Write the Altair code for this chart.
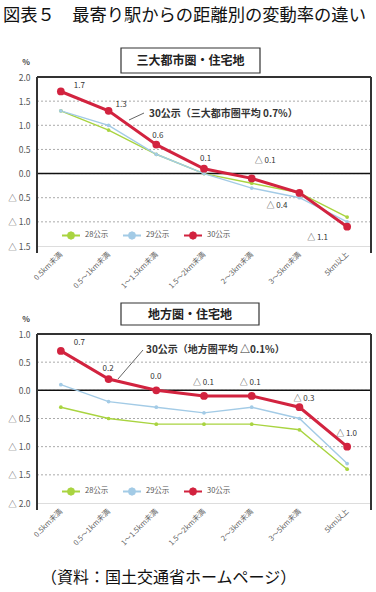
import altair as alt
import pandas as pd

FONT = "Noto Sans CJK JP"

categories = ["0.5km未満", "0.5～1km未満", "1～1.5km未満", "1.5～2km未満",
              "2～3km未満", "3～5km未満", "5km以上"]
series = ["28公示", "29公示", "30公示"]

metro_28 = [1.3, 0.9, 0.4, 0.0, -0.2, -0.4, -0.9]
metro_29 = [1.3, 1.0, 0.4, 0.0, -0.3, -0.5, -1.0]
metro_30 = [1.7, 1.3, 0.6, 0.1, -0.1, -0.4, -1.1]
local_28 = [-0.3, -0.5, -0.6, -0.6, -0.6, -0.7, -1.4]
local_29 = [0.1, -0.2, -0.3, -0.4, -0.3, -0.5, -1.3]
local_30 = [0.7, 0.2, 0.0, -0.1, -0.1, -0.3, -1.0]

metro_ticks = [2.0, 1.5, 1.0, 0.5, 0.0, -0.5, -1.0, -1.5]
local_ticks = [1.0, 0.5, 0.0, -0.5, -1.0, -1.5, -2.0]

chart_title = "図表５　最寄り駅からの距離別の変動率の違い"
metro_title = "三大都市圏・住宅地"
local_title = "地方圏・住宅地"
metro_note = "30公示（三大都市圏平均 0.7%）"
local_note = "30公示（地方圏平均 △0.1%）"
source_note = "（資料：国土交通省ホームページ）"

# ---- styles ----
W, H = 334, 169
COLORS = ["#a9d440", "#a3cbe6", "#d2233f"]
LEGEND_PATH = ("M-1,0H1M0.35,0L0.25,0.25L0,0.35L-0.25,0.25L-0.35,0"
               "L-0.25,-0.25L0,-0.35L0.25,-0.25Z")

metro_label_offsets = [(13, -5), (7, -6), (-4, -9), (-4, -10), (3, -17), (-33, 13), (-40, 11)]
local_label_offsets = [(13, -8), (-6, -10), (-6, -13), (-11, -13), (-12, -13), (-6, -8), (-11, -13)]


def fmt(v):
    return "△ " + f"{-v:.1f}" if v < 0 else f"{v:.1f}"


def make_df(v28, v29, v30):
    rows = []
    for s, vals in zip(series, [v28, v29, v30]):
        for c, v in zip(categories, vals):
            rows.append({"series": s, "cat": c, "val": v, "lab": fmt(v)})
    return pd.DataFrame(rows)


def txt(t, x, y, **kw):
    return alt.Chart(pd.DataFrame({"t": [t]})).mark_text(**kw).encode(
        x=alt.value(x), y=alt.value(y), text="t:N")


def rule(x, x2, y, y2, **kw):
    return alt.Chart(pd.DataFrame({"k": [0]})).mark_rule(**kw).encode(
        x=alt.value(x), x2=alt.value(x2), y=alt.value(y), y2=alt.value(y2))


def panel(v28, v29, v30, ticks, box_title, box_geom, box_text_y, note, note_xy,
          leader, offsets, legend_y, extras):
    df = make_df(v28, v29, v30)
    x_enc = alt.X("cat:N", sort=categories,
                  scale=alt.Scale(type="point", padding=0.5),
                  axis=alt.Axis(title=None, labelAngle=-45, labelAlign="right",
                                labelBaseline="middle", labelPadding=7,
                                labelFontSize=7.5, labelColor="#666",
                                ticks=False, domain=False, grid=False,
                                labelFont=FONT))
    y_enc = alt.Y("val:Q",
                  scale=alt.Scale(domain=[ticks[-1], ticks[0]], nice=False, zero=False),
                  axis=alt.Axis(title=None, values=ticks, grid=False, ticks=False,
                                domain=False, labelPadding=7, labelFontSize=8.5,
                                labelColor="#555", labelFont=FONT,
                                labelExpr="datum.value < 0 ? '△ ' + format(-datum.value, '.1f') : format(datum.value, '.1f')"))
    color_scale = alt.Scale(domain=series, range=COLORS)
    leg = alt.Legend(title=None, orient="none", legendX=24, legendY=legend_y,
                     direction="horizontal", symbolType=LEGEND_PATH, symbolSize=324,
                     symbolStrokeWidth=2, labelFontSize=7.5, labelColor="#555",
                     labelFont=FONT, labelOffset=4, columnPadding=10, padding=0)
    base = alt.Chart(df)

    grid = alt.Chart(pd.DataFrame({"val": ticks[1:-1]})).mark_rule(
        color="#aaaaaa", strokeDash=[2, 2], strokeWidth=1).encode(y=y_enc)
    zero = alt.Chart(pd.DataFrame({"val": [0.0]})).mark_rule(
        color="#111111", strokeWidth=1.5).encode(y=y_enc)

    enc = dict(x=x_enc, y=y_enc,
               color=alt.Color("series:N", scale=color_scale, legend=leg))
    lines_a = base.transform_filter("datum.series != '30公示'").mark_line(strokeWidth=1.4).encode(**enc)
    lines_b = base.transform_filter("datum.series == '30公示'").mark_line(strokeWidth=3).encode(**enc)
    pts_a = base.transform_filter("datum.series != '30公示'").mark_point(
        filled=True, size=14, opacity=1).encode(**enc)
    pts_b = base.transform_filter("datum.series == '30公示'").mark_point(
        filled=True, size=60, opacity=1).encode(**enc)

    labels = []
    for i, (dx, dy) in enumerate(offsets):
        labels.append(
            base.transform_filter(f"datum.series == '30公示' && datum.cat == '{categories[i]}'")
            .mark_text(align="left", baseline="middle", dx=dx, dy=dy, fontSize=8, color="#333333")
            .encode(x=x_enc, y=y_enc, text="lab:N")
        )

    frame = [
        rule(0, 0, 0, H + 7, color="#333333", strokeWidth=2),
        rule(W, W, 0, H + 7, color="#333333", strokeWidth=2),
        rule(0, W, 0, 0, color="#333333", strokeWidth=2),
    ]

    bx1, bx2, by1, by2 = box_geom
    box = alt.Chart(pd.DataFrame({"k": [0]})).mark_rect(
        fill="white", stroke="#333333", strokeWidth=1.2).encode(
        x=alt.value(bx1), x2=alt.value(bx2), y=alt.value(by1), y2=alt.value(by2))
    box_txt = txt(box_title, (bx1 + bx2) / 2, box_text_y, align="center", baseline="middle",
                  fontSize=12, fontWeight="bold", color="#222222")

    note_t = txt(note, note_xy[0], note_xy[1], align="left", baseline="middle",
                 fontSize=10, fontWeight="bold", color="#333333")
    lead = rule(leader[0], leader[1], leader[2], leader[3], color="#666666", strokeWidth=1)
    pct = txt("%", -11, -14, align="center", baseline="middle", fontSize=8,
              fontWeight="bold", color="#444444")

    return alt.layer(grid, zero, lines_a, lines_b, pts_a, pts_b, *labels, *frame,
                     lead, note_t, box, box_txt, pct, *extras).properties(width=W, height=H)


top = panel(metro_28, metro_29, metro_30, metro_ticks, metro_title,
            (84, 223, -29, -4), -16.5, metro_note, (112, 37), (92, 107, 43, 36),
            metro_label_offsets, 148,
            [rule(-34, -33, -76, -76, opacity=0, strokeWidth=0.5),
             txt(chart_title, -34, -70, align="left", baseline="top", fontSize=17.3,
                 color="#111111")])

bottom = panel(local_28, local_29, local_30, local_ticks, local_title,
               (84, 222, -31, -9), -19.5, local_note, (109, 16), (81, 106, 45, 16),
               local_label_offsets, 147,
               [txt(source_note, 4, 244, align="left", baseline="middle", fontSize=16,
                    color="#111111")])

chart = alt.vconcat(top, bottom, spacing=88, bounds="flush").resolve_scale(
    y="independent", color="independent"
).resolve_legend(color="independent").properties(
    padding={"left": 2, "top": 0, "right": 2, "bottom": 3}
).configure_view(stroke=None).configure(font=FONT)

chart.save("out.html", embed_options={"renderer": "svg", "actions": False})
